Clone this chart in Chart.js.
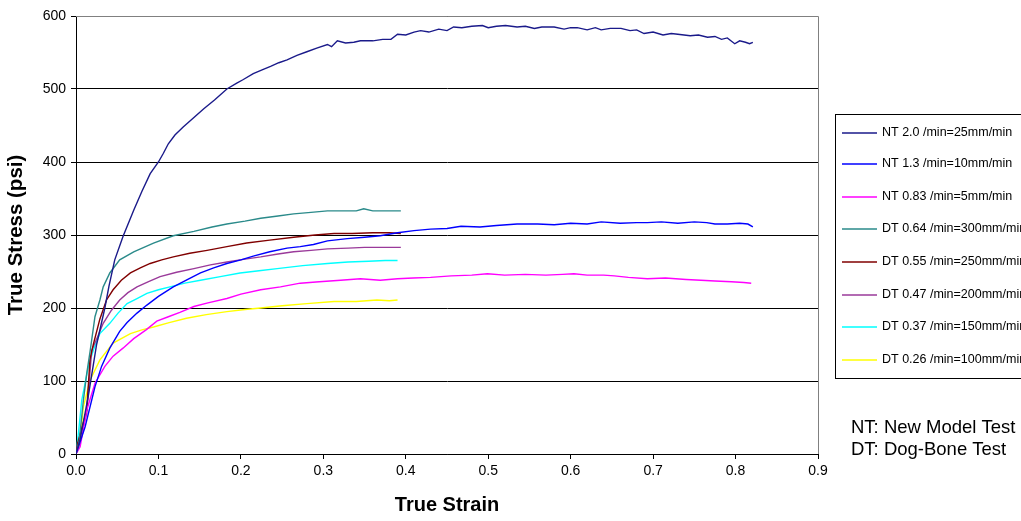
<!DOCTYPE html>
<html>
<head>
<meta charset="utf-8">
<script src="https://cdn.jsdelivr.net/npm/chart.js@4"></script>
<style>
  html, body { margin: 0; padding: 0; background: #fff; }
  #wrap { width: 1021px; height: 521px; position: relative; overflow: hidden; }
</style>
</head>
<body>
<div id="wrap"><canvas id="chart" width="1021" height="521"></canvas></div>
<script>
// series labels and colours
const seriesLabels = [
    'NT 2.0 /min=25mm/min',
    'NT 1.3 /min=10mm/min',
    'NT 0.83 /min=5mm/min',
    'DT 0.64 /min=300mm/min',
    'DT 0.55 /min=250mm/min',
    'DT 0.47 /min=200mm/min',
    'DT 0.37 /min=150mm/min',
    'DT 0.26 /min=100mm/min'
];
const seriesColors = ['#1a1a8a', '#0000ff', '#ff00ff', '#2a8a8a', '#800000', '#9a3a9a', '#00ffff', '#ffff00'];

// true strain / true stress
const nt20Strain = [0, 0.005, 0.015, 0.025, 0.035, 0.040, 0.047, 0.057, 0.070, 0.080, 0.090, 0.100, 0.106, 0.112, 0.120, 0.130, 0.142, 0.155, 0.168, 0.183, 0.195, 0.203, 0.215, 0.225, 0.236, 0.246, 0.256, 0.268, 0.280, 0.292, 0.305, 0.310, 0.317, 0.327, 0.337, 0.345, 0.360, 0.372, 0.382, 0.390, 0.400, 0.410, 0.418, 0.428, 0.440, 0.450, 0.458, 0.468, 0.480, 0.493, 0.500, 0.510, 0.521, 0.535, 0.545, 0.556, 0.565, 0.580, 0.592, 0.600, 0.608, 0.620, 0.630, 0.637, 0.648, 0.661, 0.672, 0.680, 0.689, 0.700, 0.712, 0.722, 0.730, 0.745, 0.755, 0.766, 0.775, 0.783, 0.790, 0.799, 0.805, 0.812, 0.817, 0.821];
const nt20Stress = [0, 20, 80, 150, 200, 230, 266, 298, 334, 360, 384, 400, 412, 425, 437, 448, 460, 473, 485, 500, 508, 513, 521, 526, 531, 536, 540, 546, 551, 556, 561, 558, 566, 563, 564, 566, 566, 568, 568, 575, 574, 578, 580, 578, 582, 580, 585, 584, 586, 587, 584, 586, 587, 585, 586, 583, 585, 585, 582, 584, 584, 581, 584, 581, 583, 583, 580, 581, 576, 578, 574, 576, 575, 573, 574, 571, 572, 568, 570, 562, 566, 564, 562, 564];

const nt13Strain = [0, 0.011, 0.023, 0.031, 0.041, 0.053, 0.062, 0.074, 0.086, 0.100, 0.118, 0.135, 0.151, 0.167, 0.183, 0.200, 0.215, 0.235, 0.256, 0.272, 0.288, 0.305, 0.329, 0.350, 0.369, 0.390, 0.410, 0.430, 0.450, 0.467, 0.490, 0.510, 0.535, 0.560, 0.580, 0.600, 0.620, 0.637, 0.660, 0.680, 0.693, 0.710, 0.730, 0.750, 0.765, 0.775, 0.790, 0.805, 0.815, 0.821];
const nt13Stress = [0, 37, 92, 120, 145, 168, 180, 193, 204, 216, 229, 239, 248, 255, 261, 266, 271, 277, 282, 284, 287, 292, 295, 297, 299, 303, 306, 308, 309, 312, 311, 313, 315, 315, 314, 316, 315, 318, 316, 317, 317, 318, 316, 318, 317, 315, 315, 316, 315, 311];

const nt083Strain = [0, 0.005, 0.013, 0.023, 0.035, 0.045, 0.057, 0.070, 0.085, 0.098, 0.112, 0.126, 0.143, 0.160, 0.183, 0.200, 0.224, 0.248, 0.272, 0.295, 0.321, 0.345, 0.369, 0.390, 0.409, 0.430, 0.455, 0.480, 0.499, 0.520, 0.545, 0.570, 0.590, 0.604, 0.620, 0.640, 0.653, 0.670, 0.693, 0.715, 0.740, 0.758, 0.775, 0.795, 0.810, 0.819];
const nt083Stress = [0, 10, 60, 97, 120, 134, 145, 158, 170, 182, 188, 194, 202, 207, 213, 219, 225, 229, 234, 236, 238, 240, 238, 240, 241, 242, 244, 245, 247, 245, 246, 245, 246, 247, 245, 245, 244, 242, 240, 241, 239, 238, 237, 236, 235, 234];

const dt064Strain = [0, 0.004, 0.009, 0.013, 0.017, 0.023, 0.029, 0.033, 0.041, 0.053, 0.070, 0.094, 0.118, 0.143, 0.165, 0.183, 0.205, 0.224, 0.245, 0.264, 0.285, 0.305, 0.325, 0.340, 0.349, 0.360, 0.380, 0.394];
const dt064Stress = [0, 19, 74, 110, 140, 188, 211, 229, 248, 266, 277, 289, 299, 305, 311, 315, 319, 323, 326, 329, 331, 333, 333, 333, 336, 333, 333, 333];

const dt055Strain = [0, 0.002, 0.013, 0.017, 0.021, 0.029, 0.037, 0.045, 0.055, 0.066, 0.078, 0.090, 0.104, 0.118, 0.138, 0.159, 0.183, 0.207, 0.235, 0.264, 0.290, 0.313, 0.335, 0.360, 0.380, 0.394];
const dt055Stress = [0, 15, 60, 130, 150, 185, 211, 225, 238, 248, 255, 261, 266, 270, 275, 279, 284, 289, 293, 297, 300, 302, 302, 303, 303, 302];

const dt047Strain = [0, 0.002, 0.013, 0.019, 0.026, 0.033, 0.043, 0.053, 0.063, 0.074, 0.088, 0.102, 0.122, 0.143, 0.163, 0.183, 0.205, 0.224, 0.245, 0.264, 0.285, 0.305, 0.330, 0.350, 0.370, 0.394];
const dt047Stress = [0, 12, 55, 142, 160, 179, 197, 211, 221, 229, 236, 243, 249, 254, 259, 263, 267, 270, 274, 277, 279, 281, 282, 283, 283, 283];

const dt037Strain = [0, 0.003, 0.007, 0.015, 0.021, 0.029, 0.041, 0.051, 0.062, 0.074, 0.086, 0.100, 0.114, 0.132, 0.151, 0.175, 0.199, 0.222, 0.244, 0.275, 0.305, 0.330, 0.355, 0.375, 0.390];
const dt037Stress = [0, 29, 74, 120, 142, 165, 179, 193, 206, 213, 220, 225, 229, 234, 238, 243, 248, 251, 254, 258, 261, 263, 264, 265, 265];

const dt026Strain = [0, 0.004, 0.009, 0.017, 0.029, 0.045, 0.066, 0.080, 0.094, 0.113, 0.134, 0.158, 0.183, 0.205, 0.224, 0.250, 0.280, 0.313, 0.340, 0.365, 0.380, 0.390];
const dt026Stress = [0, 10, 65, 101, 129, 152, 165, 170, 174, 180, 186, 191, 195, 198, 200, 203, 206, 209, 209, 211, 210, 211];

const strainSeries = [nt20Strain, nt13Strain, nt083Strain, dt064Strain, dt055Strain, dt047Strain, dt037Strain, dt026Strain];
const stressSeries = [nt20Stress, nt13Stress, nt083Stress, dt064Stress, dt055Stress, dt047Stress, dt037Stress, dt026Stress];

const datasets = seriesLabels.map((label, i) => ({
    label: label,
    data: strainSeries[i].map((x, j) => ({ x: x, y: stressSeries[i][j] })),
    borderColor: seriesColors[i],
    backgroundColor: seriesColors[i],
    borderWidth: 1.4,
    pointRadius: 0, // no point markers
    showLine: true,
    tension: 0
}));

// legend box + notes, drawn at the side like the original
const sideLegend = {
    id: 'sideLegend',
    afterDraw(chart) {
        const ctx = chart.ctx;
        const a = chart.chartArea;
        ctx.save();
        // plot frame (top and right)
        ctx.strokeStyle = '#808080';
        ctx.lineWidth = 1;
        ctx.beginPath();
        ctx.moveTo(a.left, a.top + 0.5);
        ctx.lineTo(a.right + 0.5, a.top + 0.5);
        ctx.lineTo(a.right + 0.5, a.bottom);
        ctx.stroke();

        ctx.strokeStyle = '#000';
        ctx.strokeRect(835.5, 114.5, 200, 264);
        ctx.font = '12.5px "Liberation Sans", Arial, sans-serif';
        ctx.textBaseline = 'middle';
        ctx.fillStyle = '#000';
        const rowY = [133, 164, 197, 229, 262, 295, 327, 360];
        chart.data.datasets.forEach((ds, i) => {
            ctx.strokeStyle = ds.borderColor;
            ctx.lineWidth = 1.5;
            ctx.beginPath();
            ctx.moveTo(842, rowY[i]);
            ctx.lineTo(877, rowY[i]);
            ctx.stroke();
            ctx.fillText(ds.label, 882, rowY[i]);
        });

        ctx.font = '18.5px "Liberation Sans", Arial, sans-serif';
        ctx.textBaseline = 'alphabetic';
        ctx.fillText('NT: New Model Test', 851, 433);
        ctx.fillText('DT: Dog-Bone Test', 851, 455);
        ctx.restore();
    }
};

new Chart(document.getElementById('chart'), {
    type: 'scatter',
    data: { datasets: datasets },
    options: {
        responsive: false,
        animation: false,
        layout: { padding: { top: 16, right: 203, left: 0, bottom: 0 } },
        plugins: {
            legend: { display: false },
            tooltip: { enabled: false }
        },
        scales: {
            x: {
                type: 'linear',
                min: 0,
                max: 0.9,
                afterFit: (s) => { s.height = 67; },
                ticks: {
                    stepSize: 0.1,
                    color: '#000',
                    font: { family: 'Liberation Sans', size: 14 },
                    padding: 4,
                    maxRotation: 0,
                    callback: (v) => v.toFixed(1)
                },
                grid: { drawOnChartArea: false, drawTicks: true, tickLength: 5, color: '#000' },
                border: { color: '#000', width: 1 },
                title: {
                    display: true,
                    text: 'True Strain',
                    color: '#000',
                    font: { family: 'Liberation Sans', size: 20, weight: 'bold' },
                    padding: { top: 10 }
                }
            },
            y: {
                min: 0,
                max: 600,
                afterFit: (s) => { s.width = 76; },
                ticks: {
                    stepSize: 100,
                    color: '#000',
                    font: { family: 'Liberation Sans', size: 14 },
                    padding: 5
                },
                grid: { color: '#000', lineWidth: 1, tickLength: 5 },
                border: { color: '#000', width: 1 },
                title: {
                    display: true,
                    text: 'True Stress (psi)',
                    color: '#000',
                    font: { family: 'Liberation Sans', size: 20.5, weight: 'bold' },
                    padding: { bottom: 10 }
                }
            }
        }
    },
    plugins: [sideLegend]
});
</script>
</body>
</html>
